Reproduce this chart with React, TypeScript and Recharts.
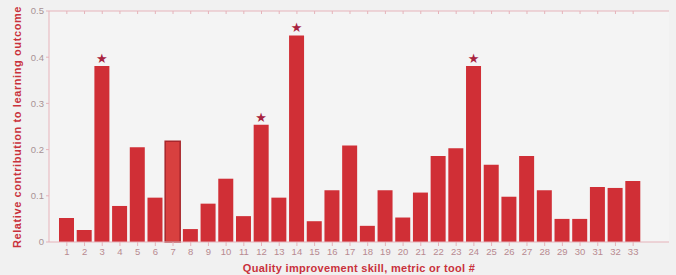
import React from 'react';
import { BarChart, Bar, XAxis, YAxis, Cell, LabelList } from 'recharts';

// skill / metric / tool numbers
const skills = [
  '1', '2', '3', '4', '5', '6', '7', '8', '9', '10', '11', '12', '13', '14', '15', '16', '17',
  '18', '19', '20', '21', '22', '23', '24', '25', '26', '27', '28', '29', '30', '31', '32', '33',
];
// relative contribution to learning outcome
const contribution = [
  0.052, 0.026, 0.381, 0.078, 0.205, 0.096, 0.218, 0.028, 0.083, 0.137, 0.056, 0.254, 0.096,
  0.447, 0.045, 0.112, 0.209, 0.035, 0.112, 0.053, 0.107, 0.186, 0.203, 0.381, 0.167, 0.098,
  0.186, 0.112, 0.05, 0.05, 0.119, 0.117, 0.132,
];
// significant ones get a star
const significant = ['3', '12', '14', '24'];
const highlighted = ['7'];
const yTicks = [0, 0.1, 0.2, 0.3, 0.4, 0.5];

const data = skills.map((s, i) => ({
  skill: s,
  value: contribution[i],
  star: significant.includes(s) ? 1 : 0,
}));

const RED = '#d02f36';
const AXIS = '#e6b3ba';
const TICK = '#b88a90';
const TITLE = '#c9323c';

const Star = (props: any) => {
  const { x, y, width, value } = props;
  if (!value) return null;
  return (
    <text x={x + width / 2} y={y - 3} textAnchor="middle" fill="#a8233f" fontSize={13} fontFamily="DejaVu Sans">
      ★
    </text>
  );
};

// rotated y title, centred on the plot
const YTitle = () => (
  <text
    x={21}
    y={127}
    transform="rotate(-90 21 127)"
    textAnchor="middle"
    fill={TITLE}
    fontSize={11}
    letterSpacing={0.6}
    fontWeight="bold"
  >
    Relative contribution to learning outcome
  </text>
);

const NoTick = () => <g />;

export default function App() {
  return (
    <div style={{ position: 'absolute', left: 0, top: 0, width: 676, height: 275, background: '#f1f1f1', fontFamily: 'Arial, Liberation Sans, sans-serif' }}>
      <BarChart width={676} height={275} data={data} margin={{ top: 11, right: 7, bottom: 0, left: 0 }} barSize={15}>
        <rect x={49} y={11} width={620} height={231} fill="#f4f4f4" />
        <XAxis
          dataKey="skill"
          height={33}
          padding={{ left: 9, right: 27 }}
          stroke={AXIS}
          tickSize={4}
          tick={{ fill: TICK, fontSize: 9.5 }}
          interval={0}
          label={{ value: 'Quality improvement skill, metric or tool #', position: 'insideBottom', offset: 3, fill: TITLE, fontSize: 11, letterSpacing: 0.3, fontWeight: 'bold' }}
        />
        <XAxis xAxisId="top" dataKey="skill" orientation="top" mirror padding={{ left: 9, right: 27 }} stroke={AXIS} tickSize={3} tick={NoTick} interval={0} />
        <YAxis
          domain={[0, 0.5]}
          ticks={yTicks}
          width={49}
          stroke={AXIS}
          tickSize={3}
          tick={{ fill: '#a89294', fontSize: 9.5 }}
          tickFormatter={(v: number) => (v === 0 ? '0' : String(v))}
          label={<YTitle />}
        />
        <YAxis yAxisId="right" orientation="right" mirror domain={[0, 0.5]} ticks={yTicks} width={0} stroke={AXIS} tickSize={3} tick={NoTick} />
        <Bar dataKey="value" fill={RED} isAnimationActive={false}>
          {data.map((d, i) => (
            <Cell
              key={`c-${i}`}
              fill={highlighted.includes(d.skill) ? '#d8403f' : RED}
              stroke={highlighted.includes(d.skill) ? '#a8262b' : 'none'}
              strokeWidth={1.5}
            />
          ))}
          <LabelList dataKey="star" content={Star} />
        </Bar>
      </BarChart>
    </div>
  );
}
